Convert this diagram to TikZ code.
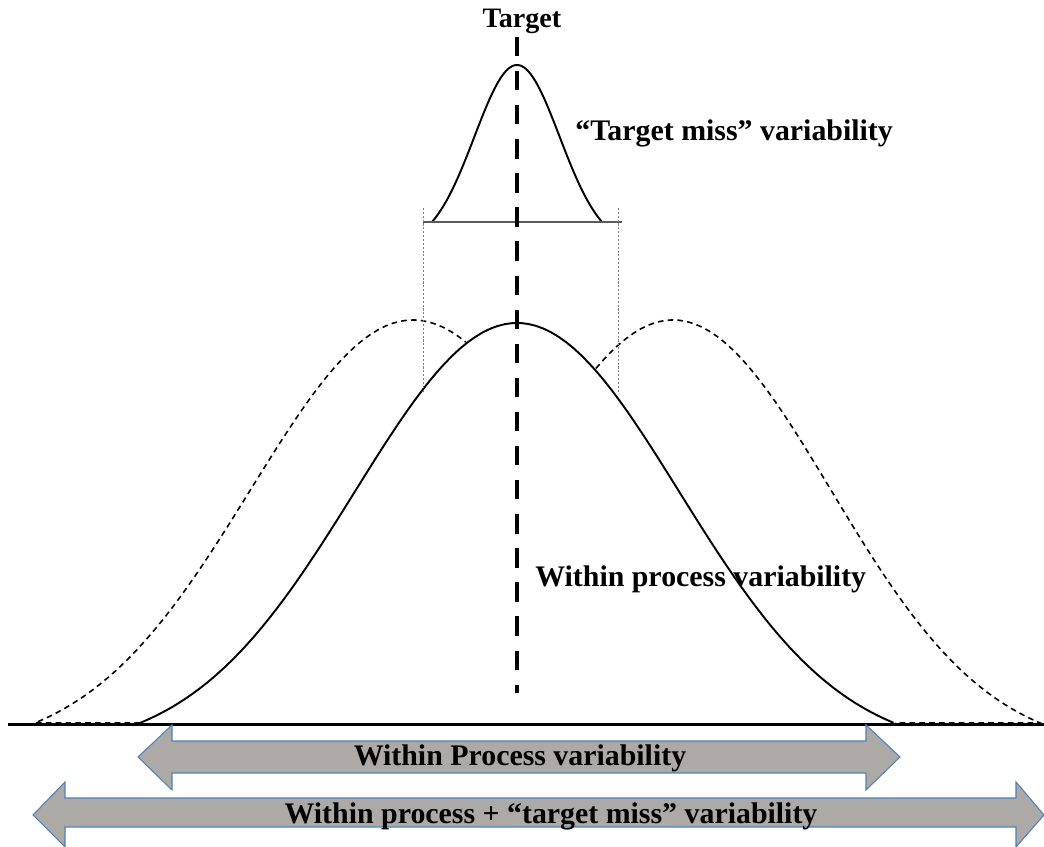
\documentclass[tikz,border=0pt]{standalone}
\usepackage{fontspec}
\setmainfont{Liberation Serif}
\definecolor{arrowfill}{RGB}{173,169,166}
\definecolor{arrowedge}{RGB}{79,129,189}

\begin{document}
\begin{tikzpicture}[x=0.02cm,y=0.02cm,
  declare function={bell(\u)=(exp(-((\u)*(\u))/0.37)-0.0669)/0.9331;
    sbell(\u)=(exp(-((\u)*(\u))/0.5)-0.1353)/0.8647;},
  lbl/.style={font=\fontsize{17}{20}\selectfont\bfseries,inner sep=0pt},
  curve/.style={line width=1.1pt},
  shifted/.style={line width=0.9pt,dash pattern=on 3.2pt off 2.4pt},
  guide/.style={gray,line width=0.5pt,dash pattern=on 1.2pt off 1pt},
  bigarrow/.style={fill=arrowfill,draw=arrowedge,line width=0.6pt}]
  \useasboundingbox (0,0) rectangle (1044,847);
  \coordinate (ttop) at (517,810);
  \coordinate (tbot) at (517,154);
  \node[lbl,font=\fontsize{16}{19}\selectfont\bfseries,anchor=base] (target) at (522,819) {Target};
  \node[lbl,anchor=base west] (miss) at (575,706) {“Target miss” variability};
  \node[lbl,anchor=base west] (within) at (535,260) {Within process variability};
  % shifted means
  \draw[shifted] (140,124) -- (35,124)
    -- plot[domain=-1:0.14,samples=60] ({413+378*\x},{124+403*bell(\x)});
  \draw[shifted] plot[domain=-0.21:1,samples=60] ({673+367*\x},{124+403*bell(\x)})
    -- (895,124);
  % process and target miss
  \draw[curve] plot[domain=-1:1,samples=100] ({517+377*\x},{124+400*bell(\x)});
  \draw[curve] plot[domain=-1:1,samples=60] ({517+85*\x},{625+157*sbell(\x)});
  \draw[gray!70!black,line width=0.6pt] (423,625) -- (622,625);
  \draw[guide] (423,639) -- (423,455);
  \draw[guide] (618,639) -- (618,455);
  \draw[line width=1.7pt] (8,122) -- (1044,122);
  \draw[line width=2.8pt,dash pattern=on 11pt off 8.4pt] (ttop) -- (tbot);
  % ranges
  \draw[bigarrow] (138,90) -- (172,122) -- (172,106) -- (866,106) -- (866,122)
    -- (900,90) -- (866,57) -- (866,74) -- (172,74) -- (172,57) -- cycle;
  \node[lbl,anchor=base] (narrow) at (520,81) {Within Process variability};
  \draw[bigarrow] (33,32) -- (65,65) -- (65,49) -- (1016,49) -- (1016,65)
    -- (1044,32) -- (1016,0) -- (1016,20) -- (65,20) -- (65,0) -- cycle;
  \node[lbl,anchor=base] (wide) at (551,23) {Within process + “target miss” variability};
\end{tikzpicture}
\end{document}
